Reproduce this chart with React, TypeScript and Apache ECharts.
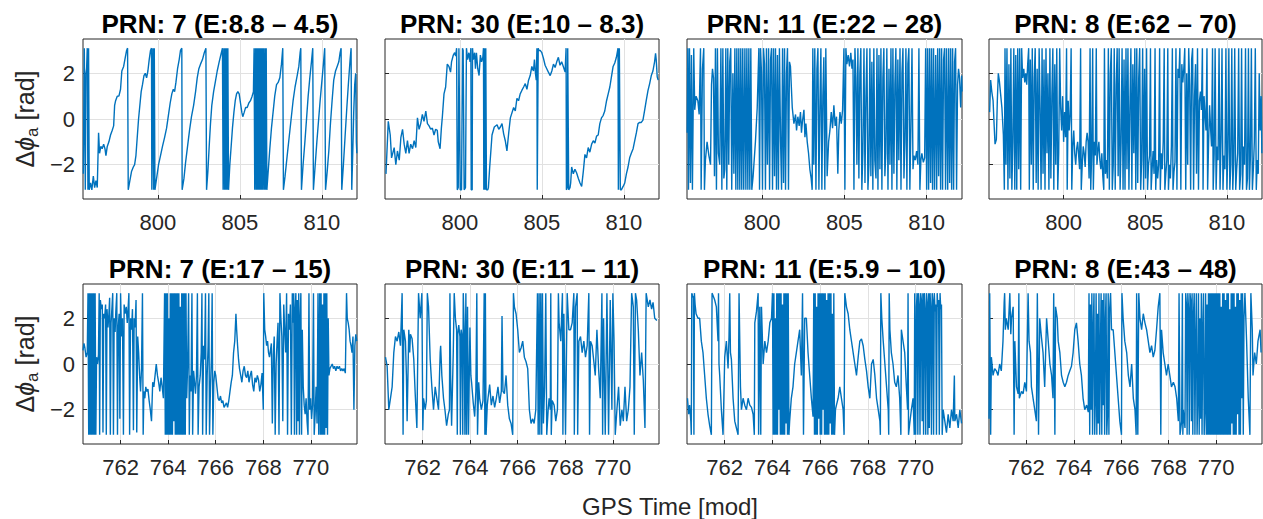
import React, { useEffect, useRef } from "react";
import * as echarts from "echarts";

const FONT = "'Liberation Sans', Arial, Helvetica, sans-serif";
const INK = "#262626";
const LINE_COLOR = "#0072BD";

// ---------- axis data ----------
const topTimeRange = [795.43, 812.15];
const bottomTimeRange = [760.42, 771.94];
const topTicks = [800, 805, 810];
const bottomTicks = [762, 764, 766, 768, 770];
const phaseRange = [-3.5, 3.5];
const phaseTicks = [-2, 0, 2];

const panelTitles = [
  "PRN: 7 (E:8.8 – 4.5)",
  "PRN: 30 (E:10 – 8.3)",
  "PRN: 11 (E:22 – 28)",
  "PRN: 8 (E:62 – 70)",
  "PRN: 7 (E:17 – 15)",
  "PRN: 30 (E:11 – 11)",
  "PRN: 11 (E:5.9 – 10)",
  "PRN: 8 (E:43 – 48)",
];
const xAxisTitle = "GPS Time [mod]";

type Pts = [number, number][];

// ---------- series data: [GPS time, Δφa] ----------
const prn7Early: Pts = [
[795.45,-2.4],[795.51,3.1],[795.57,-3.1],[795.61,2.0],[795.65,2.2],[795.69,3.1],[795.73,-3.1],[795.77,3.1],[795.81,-3.1],[795.89,-2.8],[795.97,-3.1],[796.06,-2.5],[796.14,-3.0],[796.22,-2.7],[796.30,-3.0],[796.38,-0.6],[796.44,-1.5],[796.52,-1.2],[796.60,-1.3],[796.69,-1.1],[796.77,-1.3],[796.83,-1.6],[796.91,-1.2],[797.01,-1.0],[797.11,-0.7],[797.21,-0.5],[797.30,-0.3],[797.36,0.6],[797.42,0.8],[797.52,1.0],[797.62,1.0],[797.72,1.3],[797.80,2.1],[797.91,2.3],[798.01,2.7],[798.09,3.0],[798.15,3.1],[798.19,-3.1],[798.29,-2.7],[798.39,-2.3],[798.50,-2.1],[798.58,-2.0],[798.66,-1.6],[798.74,-0.8],[798.82,0.0],[798.90,0.6],[798.98,1.2],[799.06,1.5],[799.15,1.9],[799.23,2.0],[799.31,1.8],[799.39,2.1],[799.47,2.6],[799.55,3.0],[799.61,3.1],[799.63,-3.1],[799.70,3.1],[799.74,-3.1],[799.78,3.1],[799.82,-3.1],[799.92,-2.6],[800.04,-2.0],[800.16,-1.6],[800.28,-1.2],[800.41,-0.8],[800.53,-0.4],[800.65,0.2],[800.75,0.7],[800.85,1.1],[800.94,1.3],[801.02,1.2],[801.10,1.6],[801.20,2.2],[801.30,2.6],[801.38,3.0],[801.46,3.1],[801.48,-3.1],[801.59,-2.6],[801.69,-1.9],[801.81,-1.2],[801.93,-0.5],[802.05,0.1],[802.18,0.6],[802.30,1.2],[802.40,1.8],[802.50,2.2],[802.60,2.4],[802.72,2.6],[802.83,2.9],[802.93,3.1],[802.97,-3.1],[803.05,-2.3],[803.13,-1.2],[803.21,-0.2],[803.29,0.6],[803.40,1.2],[803.50,1.6],[803.62,2.1],[803.74,2.5],[803.84,2.8],[803.94,3.1],[803.98,-3.1],[804.03,3.1],[804.07,-3.1],[804.11,3.1],[804.15,-3.1],[804.19,3.1],[804.23,-3.1],[804.27,3.1],[804.31,-3.1],[804.39,-2.0],[804.47,-1.2],[804.55,-0.4],[804.64,0.3],[804.72,0.8],[804.80,1.1],[804.88,1.2],[804.96,1.1],[805.04,0.7],[805.12,0.3],[805.18,0.1],[805.27,0.3],[805.35,0.5],[805.45,0.5],[805.55,0.7],[805.65,0.8],[805.75,1.0],[805.83,1.2],[805.87,3.1],[805.91,-3.1],[805.96,3.1],[806.00,-3.1],[806.04,3.1],[806.08,-3.1],[806.12,3.1],[806.16,-3.1],[806.20,3.1],[806.24,-3.1],[806.28,3.1],[806.32,-3.1],[806.36,3.1],[806.40,-3.1],[806.44,3.1],[806.49,-3.1],[806.53,3.1],[806.57,-3.1],[806.61,3.1],[806.65,-3.1],[806.73,-2.3],[806.83,-1.3],[806.93,-0.4],[807.03,0.3],[807.13,1.0],[807.24,1.5],[807.34,1.6],[807.44,1.8],[807.54,2.4],[807.62,3.1],[807.66,-3.1],[807.76,-2.5],[807.89,-1.6],[808.01,-0.8],[808.13,0.0],[808.25,0.8],[808.37,1.4],[808.50,1.9],[808.60,2.3],[808.68,2.9],[808.72,3.1],[808.76,-3.1],[808.86,-2.0],[808.97,-1.0],[809.07,0.0],[809.17,1.0],[809.27,1.8],[809.37,2.5],[809.45,3.1],[809.49,-3.1],[809.60,-2.0],[809.70,-1.0],[809.80,-0.1],[809.90,0.8],[810.00,1.6],[810.10,2.4],[810.18,3.1],[810.23,-3.1],[810.33,-2.3],[810.43,-1.4],[810.53,-0.2],[810.63,0.8],[810.73,1.7],[810.84,2.1],[810.94,2.3],[811.04,2.5],[811.12,2.9],[811.18,3.1],[811.22,-3.1],[811.32,-2.0],[811.42,-0.8],[811.53,0.5],[811.63,1.6],[811.73,2.6],[811.79,3.1],[811.83,-3.1],[811.89,-1.5],[811.95,0.3],[812.01,1.5],[812.07,2.0],[812.11,-1.0],[812.14,-1.5]
];

const prn30Early: Pts = [
[795.49,-2.4],[795.63,-0.1],[795.75,-0.7],[795.83,-1.7],[795.99,-1.25],[796.09,-2.0],[796.19,-1.4],[796.30,-1.8],[796.40,-0.8],[796.50,-0.45],[796.60,-1.1],[796.70,-1.5],[796.80,-0.95],[796.90,-1.5],[797.00,-1.1],[797.11,-1.3],[797.21,-0.95],[797.31,-1.25],[797.41,0.05],[797.51,-0.45],[797.61,-0.2],[797.71,0.2],[797.81,-0.1],[797.92,0.35],[798.02,-0.2],[798.12,-0.3],[798.22,-0.45],[798.32,-0.4],[798.42,-0.7],[798.52,-0.45],[798.62,-0.5],[798.68,-1.0],[798.79,-1.3],[798.87,-0.4],[798.93,0.1],[799.03,1.1],[799.13,1.4],[799.23,2.4],[799.33,2.3],[799.43,2.05],[799.49,2.5],[799.60,2.8],[799.68,2.9],[799.74,2.75],[799.80,3.1],[799.84,-3.1],[799.90,-3.0],[799.94,3.1],[799.98,3.1],[800.02,-3.1],[800.10,-3.1],[800.16,3.1],[800.20,3.0],[800.26,-3.1],[800.34,-3.0],[800.40,3.1],[800.47,2.6],[800.55,2.9],[800.62,2.5],[800.67,3.1],[800.69,-3.1],[800.75,-3.1],[800.77,3.1],[800.82,2.6],[800.90,2.9],[800.95,2.2],[801.01,2.9],[801.09,2.2],[801.17,1.9],[801.25,2.8],[801.32,2.5],[801.40,2.7],[801.44,3.1],[801.46,-3.1],[801.50,3.1],[801.54,-3.1],[801.58,3.1],[801.62,-3.1],[801.70,-3.1],[801.74,-3.0],[801.82,-2.1],[801.96,-0.7],[802.10,-0.35],[802.27,-0.25],[802.37,-0.45],[802.47,-0.35],[802.57,-0.2],[802.67,-0.65],[802.77,-0.95],[802.87,-1.4],[802.98,-0.6],[803.08,0.05],[803.28,0.5],[803.38,0.35],[803.48,0.9],[803.58,0.8],[803.68,1.1],[803.78,1.25],[803.89,1.4],[803.99,1.55],[804.09,1.3],[804.19,1.7],[804.29,1.9],[804.39,2.3],[804.49,2.1],[804.55,2.6],[804.61,2.0],[804.66,1.7],[804.70,3.1],[804.72,-3.1],[804.76,-3.1],[804.78,3.1],[804.82,3.0],[804.90,3.0],[805.00,2.9],[805.10,2.65],[805.20,2.35],[805.30,2.2],[805.40,2.05],[805.51,1.9],[805.61,2.1],[805.71,2.4],[805.81,2.25],[805.91,2.5],[806.01,2.7],[806.11,2.35],[806.21,2.5],[806.31,2.3],[806.42,2.05],[806.48,3.1],[806.50,-3.1],[806.56,-3.0],[806.58,3.1],[806.62,3.1],[806.64,-3.1],[806.72,-3.0],[806.76,-2.8],[806.82,-2.1],[806.92,-2.4],[807.02,-2.2],[807.12,-2.35],[807.23,-2.6],[807.33,-2.8],[807.43,-2.95],[807.53,-2.3],[807.63,-1.55],[807.73,-1.7],[807.83,-1.25],[807.93,-1.45],[808.04,-1.1],[808.14,-0.95],[808.24,-1.05],[808.34,-0.75],[808.44,-0.7],[808.54,-0.2],[808.64,0.05],[808.74,0.15],[808.84,0.35],[808.95,0.8],[809.05,1.1],[809.15,1.4],[809.25,1.85],[809.35,2.3],[809.45,2.45],[809.55,2.7],[809.65,3.1],[809.67,-3.1],[809.71,-3.1],[809.73,3.1],[809.77,3.1],[809.79,-3.1],[809.85,-3.1],[809.96,-2.95],[810.06,-2.8],[810.16,-2.4],[810.26,-2.1],[810.36,-1.7],[810.46,-1.5],[810.57,-1.3],[810.67,-0.95],[810.77,-0.6],[810.87,-0.2],[810.97,-0.15],[811.07,-0.15],[811.17,-0.05],[811.27,0.37],[811.37,0.8],[811.48,1.25],[811.58,1.55],[811.68,1.9],[811.78,2.1],[811.88,2.5],[811.94,2.87],[811.98,2.6],[812.04,1.85],[812.10,1.7]
];

const prn11Early: Pts = [
[795.44,-0.6],[795.48,3.1],[795.52,-3.1],[795.58,3.1],[795.64,-2.8],[795.70,2.8],[795.76,-3.1],[795.84,3.1],[795.90,0.4],[795.98,1.0],[796.09,0.8],[796.17,0.2],[796.25,3.1],[796.29,-3.1],[796.37,2.2],[796.45,3.1],[796.49,-3.1],[796.55,-1.8],[796.65,-1.0],[796.76,-1.6],[796.86,-2.0],[796.92,1.5],[796.98,2.2],[797.04,1.8],[797.10,-2.5],[797.16,3.1],[797.22,-3.1],[797.28,3.1],[797.34,-1.5],[797.42,-2.0],[797.49,3.1],[797.55,-3.1],[797.61,3.1],[797.67,-2.6],[797.73,-2.2],[797.79,3.1],[797.85,-3.1],[797.91,3.1],[797.97,-2.0],[798.03,2.5],[798.09,3.1],[798.15,-3.1],[798.22,2.0],[798.28,-2.4],[798.34,3.1],[798.40,-3.1],[798.46,3.1],[798.52,-3.1],[798.58,3.1],[798.64,-3.1],[798.70,3.1],[798.76,-3.1],[798.82,3.1],[798.88,-3.1],[798.95,3.1],[799.01,-3.1],[799.07,3.1],[799.13,-3.1],[799.19,3.1],[799.25,-3.1],[799.31,3.1],[799.37,-3.1],[799.45,-2.5],[799.59,-1.0],[799.70,0.5],[799.80,3.1],[799.84,-3.1],[799.90,3.1],[799.96,2.0],[800.02,-3.1],[800.08,3.1],[800.14,2.4],[800.20,-3.1],[800.26,3.1],[800.32,-2.0],[800.39,3.1],[800.45,-3.1],[800.51,2.6],[800.57,3.1],[800.63,-3.1],[800.69,3.1],[800.75,-2.5],[800.81,3.1],[800.87,-3.1],[800.93,2.8],[800.99,-3.1],[801.05,3.1],[801.12,-1.0],[801.18,-3.1],[801.24,3.1],[801.30,-2.8],[801.36,3.1],[801.42,-3.1],[801.48,2.0],[801.54,3.1],[801.60,-3.1],[801.66,2.5],[801.72,2.3],[801.83,0.5],[801.93,-0.2],[802.03,0.2],[802.09,-0.5],[802.17,0.1],[802.25,-0.3],[802.33,0.3],[802.39,-0.6],[802.45,-0.1],[802.54,0.4],[802.60,-0.8],[802.66,-0.2],[802.74,-1.0],[802.82,-1.5],[802.90,-2.2],[802.98,-2.6],[803.04,-3.1],[803.08,3.1],[803.14,-2.0],[803.20,3.1],[803.27,-3.1],[803.33,2.2],[803.39,3.1],[803.45,-3.1],[803.51,0.5],[803.57,3.1],[803.63,-3.1],[803.69,1.0],[803.75,2.7],[803.81,-3.1],[803.87,3.1],[803.95,-2.5],[804.04,-1.0],[804.12,-0.5],[804.20,0.3],[804.28,-0.4],[804.36,0.6],[804.44,-0.3],[804.52,0.1],[804.60,-2.4],[804.66,-0.5],[804.73,0.3],[804.81,-0.2],[804.89,0.4],[804.97,3.1],[805.03,-3.1],[805.09,3.1],[805.15,2.4],[805.23,2.8],[805.31,2.3],[805.39,2.9],[805.46,2.2],[805.52,2.6],[805.58,-3.1],[805.64,3.1],[805.70,1.8],[805.76,-2.0],[805.82,3.1],[805.88,-2.6],[805.94,2.0],[806.00,3.1],[806.06,-3.1],[806.12,-1.5],[806.19,3.1],[806.25,-2.8],[806.31,1.0],[806.37,3.1],[806.43,-3.1],[806.49,-2.0],[806.55,3.1],[806.61,-2.5],[806.67,2.5],[806.73,-3.1],[806.79,3.1],[806.85,-1.8],[806.92,-2.6],[806.98,3.1],[807.04,-3.1],[807.10,2.8],[807.16,-2.2],[807.22,3.1],[807.28,-3.1],[807.34,1.8],[807.40,3.1],[807.46,-2.5],[807.52,-1.5],[807.58,3.1],[807.65,-3.1],[807.71,2.2],[807.77,-2.0],[807.83,3.1],[807.89,-3.1],[807.95,3.1],[808.01,-2.4],[808.07,1.5],[808.13,3.1],[808.19,-3.1],[808.25,2.6],[808.31,-1.8],[808.38,3.1],[808.44,-3.1],[808.50,2.0],[808.56,3.1],[808.62,-2.6],[808.68,-1.0],[808.74,3.1],[808.80,-3.1],[808.86,2.4],[808.92,3.1],[808.98,-3.1],[809.04,-0.5],[809.11,3.1],[809.17,-2.2],[809.23,-1.6],[809.31,-1.8],[809.39,-1.4],[809.47,-2.0],[809.53,3.1],[809.59,-3.1],[809.65,-1.8],[809.71,-1.5],[809.80,-1.9],[809.88,-1.7],[809.94,3.1],[810.00,-3.1],[810.06,3.1],[810.12,-3.1],[810.18,3.1],[810.24,-2.8],[810.30,3.1],[810.36,-3.1],[810.42,3.1],[810.48,-3.1],[810.55,2.8],[810.61,-3.1],[810.67,3.1],[810.73,-2.5],[810.79,3.1],[810.85,-3.1],[810.91,3.1],[810.97,-3.1],[811.03,2.6],[811.09,3.1],[811.15,-3.1],[811.21,3.1],[811.28,-3.1],[811.34,3.1],[811.40,-2.8],[811.46,3.1],[811.52,-3.1],[811.58,3.1],[811.64,-3.1],[811.70,2.5],[811.76,3.1],[811.82,-3.1],[811.88,1.5],[811.94,2.2],[812.00,1.8],[812.07,0.5],[812.13,1.9],[812.15,1.2]
];

const prn8Early: Pts = [
[795.47,0.3],[795.53,1.7],[795.60,1.2],[795.68,0.8],[795.74,-0.2],[795.80,-1.1],[795.88,-0.9],[795.94,0.8],[796.00,2.0],[796.06,1.7],[796.14,1.1],[796.22,0.5],[796.31,-0.7],[796.37,-3.1],[796.41,3.1],[796.47,-2.0],[796.53,3.1],[796.59,-3.1],[796.65,2.4],[796.71,-2.6],[796.77,3.1],[796.83,-3.1],[796.89,-1.0],[796.95,3.1],[797.01,-3.1],[797.07,2.8],[797.13,-3.1],[797.19,3.1],[797.25,-2.2],[797.31,3.1],[797.37,-3.1],[797.43,3.1],[797.49,1.8],[797.56,2.2],[797.62,1.6],[797.68,2.0],[797.74,1.5],[797.80,2.4],[797.86,3.1],[797.90,-3.1],[797.96,2.6],[798.02,-2.0],[798.08,3.1],[798.14,-3.1],[798.20,1.8],[798.26,3.1],[798.32,-2.8],[798.38,2.2],[798.44,-3.1],[798.50,3.1],[798.56,0.5],[798.62,-3.1],[798.68,3.1],[798.74,-2.4],[798.80,2.6],[798.86,-3.1],[798.92,3.1],[798.98,-1.5],[799.04,2.0],[799.10,-3.1],[799.16,3.1],[799.22,-2.6],[799.28,1.0],[799.34,3.1],[799.40,-3.1],[799.46,2.4],[799.52,-2.0],[799.58,3.1],[799.64,-3.1],[799.70,-1.5],[799.76,3.1],[799.82,0.5],[799.88,-0.5],[799.94,1.0],[800.00,-1.0],[800.06,0.3],[800.12,-0.8],[800.18,3.1],[800.22,-3.1],[800.28,0.8],[800.34,-0.5],[800.40,0.2],[800.46,3.1],[800.50,-3.1],[800.56,-1.2],[800.62,-0.5],[800.68,-1.5],[800.74,-2.0],[800.80,-1.3],[800.86,-1.0],[800.92,-1.6],[800.98,-2.2],[801.04,3.1],[801.08,-3.1],[801.14,-2.0],[801.20,-1.2],[801.26,-1.5],[801.32,-2.1],[801.38,-1.0],[801.44,-0.6],[801.50,-1.0],[801.56,-2.6],[801.62,3.1],[801.66,-3.1],[801.72,-1.5],[801.78,3.1],[801.82,-3.1],[801.88,-1.0],[801.94,-1.6],[802.00,3.1],[802.04,-2.0],[802.10,-1.4],[802.16,-1.0],[802.22,-1.8],[802.28,-2.2],[802.34,-1.5],[802.40,-2.5],[802.46,-3.1],[802.50,3.1],[802.56,-2.4],[802.62,-1.8],[802.68,-2.6],[802.74,3.1],[802.80,-3.1],[802.86,2.0],[802.92,3.1],[802.98,-3.1],[803.04,-2.0],[803.10,3.1],[803.16,-3.1],[803.22,1.5],[803.28,3.1],[803.34,-2.5],[803.40,3.1],[803.46,-3.1],[803.52,-1.0],[803.58,3.1],[803.64,-3.1],[803.70,2.6],[803.76,-3.1],[803.82,3.1],[803.88,-2.2],[803.94,3.1],[804.00,-3.1],[804.06,0.5],[804.12,3.1],[804.18,-3.1],[804.24,2.4],[804.30,-1.5],[804.36,3.1],[804.42,-3.1],[804.48,3.1],[804.54,-2.8],[804.60,1.8],[804.66,3.1],[804.72,-3.1],[804.78,-1.8],[804.84,3.1],[804.90,-3.1],[804.96,2.2],[805.02,-2.6],[805.08,3.1],[805.14,-3.1],[805.20,-2.0],[805.26,-1.6],[805.32,3.1],[805.36,-3.1],[805.42,-2.2],[805.48,-1.4],[805.54,-2.4],[805.60,3.1],[805.64,-3.1],[805.70,-1.8],[805.76,-2.6],[805.82,-2.0],[805.88,3.1],[805.92,-3.1],[805.98,-1.5],[806.04,-2.2],[806.10,-1.0],[806.16,3.1],[806.20,-3.1],[806.26,-2.4],[806.32,-1.8],[806.38,3.1],[806.42,-3.1],[806.48,-2.0],[806.54,-2.6],[806.60,-1.2],[806.66,3.1],[806.70,-3.1],[806.76,-2.3],[806.82,-1.9],[806.88,3.1],[806.94,-3.1],[807.00,2.2],[807.06,1.8],[807.12,3.1],[807.18,-3.1],[807.24,2.4],[807.30,1.6],[807.36,2.2],[807.42,3.1],[807.48,-3.1],[807.54,2.0],[807.60,-2.0],[807.66,3.1],[807.72,1.5],[807.78,-3.1],[807.84,2.6],[807.90,3.1],[807.96,-3.1],[808.02,1.0],[808.08,2.4],[808.14,-2.4],[808.20,3.1],[808.26,-3.1],[808.32,0.8],[808.38,1.2],[808.44,0.4],[808.50,3.1],[808.54,-3.1],[808.60,1.0],[808.66,0.2],[808.72,-0.5],[808.78,3.1],[808.82,-3.1],[808.88,-1.0],[808.94,0.6],[809.00,-0.4],[809.06,-1.2],[809.12,3.1],[809.16,-3.1],[809.22,-1.5],[809.28,3.1],[809.34,-3.1],[809.40,-1.2],[809.46,-1.8],[809.52,3.1],[809.58,-3.1],[809.64,-1.0],[809.70,3.1],[809.76,-3.1],[809.82,-1.6],[809.88,-2.2],[809.94,3.1],[810.00,-3.1],[810.06,-1.4],[810.12,3.1],[810.18,-3.1],[810.24,-2.0],[810.30,3.1],[810.36,-3.1],[810.42,-1.8],[810.48,3.1],[810.54,-3.1],[810.60,-2.2],[810.66,-1.5],[810.72,3.1],[810.78,-3.1],[810.84,-2.4],[810.90,3.1],[810.96,-3.1],[811.02,-1.2],[811.08,-2.0],[811.14,3.1],[811.20,-3.1],[811.26,-2.6],[811.32,3.1],[811.38,-3.1],[811.44,-1.6],[811.50,3.1],[811.56,-3.1],[811.62,-2.2],[811.68,-1.0],[811.74,3.1],[811.80,-3.1],[811.86,-1.8],[811.92,-2.4],[811.98,2.0],[812.04,-0.5],[812.10,1.0],[812.14,-1.5]
];

const prn7Late: Pts = [
[760.42,0.6],[760.46,0.9],[760.50,0.7],[760.55,0.3],[760.60,0.5],[760.63,3.1],[760.66,-3.1],[760.69,3.1],[760.72,-3.1],[760.75,3.1],[760.78,-3.1],[760.81,3.1],[760.84,-3.1],[760.87,3.1],[760.90,-3.1],[760.93,3.1],[760.96,-3.1],[760.99,0.3],[761.03,0.0],[761.07,0.4],[761.10,3.1],[761.12,-3.1],[761.15,2.8],[761.19,2.4],[761.23,2.6],[761.26,-3.0],[761.29,2.2],[761.33,2.0],[761.37,2.6],[761.40,-3.1],[761.43,2.4],[761.47,1.6],[761.51,2.2],[761.54,2.9],[761.57,-3.1],[761.60,1.8],[761.64,2.5],[761.67,3.1],[761.70,-3.1],[761.73,2.0],[761.77,1.4],[761.80,2.3],[761.84,3.1],[761.87,-3.1],[761.90,1.6],[761.94,2.2],[761.97,-2.4],[762.00,3.1],[762.04,1.2],[762.08,2.0],[762.12,-3.1],[762.15,2.6],[762.19,2.2],[762.24,2.5],[762.28,1.8],[762.31,2.3],[762.35,3.1],[762.38,-3.1],[762.42,2.0],[762.46,1.5],[762.50,2.4],[762.54,-2.9],[762.57,2.0],[762.61,1.6],[762.65,2.8],[762.68,-3.0],[762.72,1.2],[762.76,0.5],[762.80,-0.5],[762.84,-1.2],[762.88,-0.2],[762.92,3.1],[762.95,-3.1],[762.98,-1.2],[763.02,-1.5],[763.06,-1.0],[763.10,-1.2],[763.15,-1.1],[763.20,-1.6],[763.25,-2.0],[763.30,-2.5],[763.35,-0.8],[763.40,-1.0],[763.45,-0.5],[763.50,0.0],[763.55,-0.5],[763.60,-0.8],[763.65,-1.2],[763.70,-0.6],[763.75,-1.0],[763.80,-1.5],[763.85,3.1],[763.88,-3.1],[763.91,3.1],[763.94,-3.1],[763.97,3.1],[764.00,-3.1],[764.03,2.0],[764.06,-3.1],[764.09,3.1],[764.12,-3.1],[764.15,3.1],[764.18,-3.1],[764.21,3.1],[764.24,-2.5],[764.27,3.1],[764.30,-3.1],[764.33,3.1],[764.36,-3.1],[764.39,3.1],[764.42,-3.1],[764.45,3.1],[764.48,-3.1],[764.51,2.5],[764.54,-3.1],[764.57,3.1],[764.60,-3.1],[764.63,3.1],[764.66,-3.1],[764.69,3.1],[764.72,-3.1],[764.75,3.1],[764.78,-1.5],[764.82,0.0],[764.86,3.1],[764.89,-3.1],[764.92,-0.5],[764.96,-1.2],[765.00,3.1],[765.03,-3.1],[765.07,-0.3],[765.11,-0.8],[765.15,-1.3],[765.19,-0.5],[765.23,3.1],[765.26,-3.1],[765.30,-1.0],[765.35,-0.5],[765.39,0.5],[765.42,3.1],[765.45,-3.1],[765.49,0.8],[765.53,0.2],[765.57,3.1],[765.60,-3.1],[765.64,-0.5],[765.68,0.8],[765.71,3.1],[765.74,-3.1],[765.78,-1.0],[765.82,0.3],[765.85,3.1],[765.88,-3.1],[765.92,-0.8],[765.96,-0.3],[766.00,-0.5],[766.05,-1.0],[766.10,-1.5],[766.15,-1.6],[766.20,-1.4],[766.25,-1.7],[766.30,-1.6],[766.35,-1.9],[766.40,-1.8],[766.45,-1.7],[766.50,-1.9],[766.55,-1.6],[766.60,-1.2],[766.65,-0.8],[766.70,-0.5],[766.75,0.5],[766.80,1.0],[766.85,2.2],[766.88,1.5],[766.92,0.8],[766.96,0.2],[767.00,-0.2],[767.05,-0.5],[767.10,-0.8],[767.15,-0.3],[767.20,-0.1],[767.25,-0.5],[767.30,-0.6],[767.35,-0.3],[767.40,-0.8],[767.45,-0.5],[767.50,-0.3],[767.55,-0.9],[767.60,-1.2],[767.65,-0.6],[767.70,-0.8],[767.75,-0.5],[767.80,-0.7],[767.85,-1.2],[767.90,-0.9],[767.95,-0.4],[768.00,-2.0],[768.02,3.1],[768.06,1.5],[768.10,1.2],[768.14,0.8],[768.18,1.0],[768.22,0.5],[768.26,0.3],[768.30,0.6],[768.34,0.9],[768.38,-2.6],[768.42,0.4],[768.46,1.2],[768.50,-3.1],[768.54,0.0],[768.58,1.0],[768.62,1.8],[768.66,-3.1],[768.70,3.1],[768.74,2.0],[768.78,1.2],[768.82,-2.5],[768.86,2.6],[768.90,1.5],[768.94,0.5],[768.98,3.1],[769.02,-3.1],[769.06,2.2],[769.10,1.5],[769.14,2.6],[769.18,-3.1],[769.22,3.1],[769.25,1.8],[769.28,3.1],[769.31,-3.1],[769.34,2.4],[769.37,3.1],[769.40,-3.1],[769.43,2.8],[769.46,-2.5],[769.49,3.1],[769.52,-3.1],[769.55,2.0],[769.58,3.1],[769.61,-3.1],[769.64,1.5],[769.68,-1.0],[769.72,-1.8],[769.76,-2.2],[769.80,-1.5],[769.84,-2.5],[769.88,-3.1],[769.92,3.1],[769.95,-2.0],[769.99,-1.5],[770.03,-2.4],[770.07,-1.8],[770.11,3.1],[770.14,-3.1],[770.18,-2.2],[770.22,-1.0],[770.26,-2.6],[770.30,3.1],[770.33,-3.1],[770.37,3.1],[770.40,-3.1],[770.43,3.1],[770.46,-3.1],[770.49,2.6],[770.52,-3.1],[770.55,3.1],[770.58,-3.1],[770.61,3.1],[770.64,-2.8],[770.67,3.1],[770.70,-3.1],[770.73,2.0],[770.76,-0.5],[770.80,-0.2],[770.85,-0.1],[770.90,0.0],[770.95,-0.2],[771.00,-0.1],[771.05,-0.3],[771.10,-0.1],[771.15,-0.2],[771.20,-0.1],[771.25,-0.3],[771.30,-0.2],[771.35,-0.3],[771.40,-0.2],[771.45,-0.4],[771.50,3.1],[771.53,2.0],[771.57,1.8],[771.61,1.5],[771.65,1.0],[771.69,0.8],[771.73,0.5],[771.77,1.2],[771.81,-2.0],[771.85,0.8],[771.89,1.3],[771.93,1.0]
];

const prn30Late: Pts = [
[760.44,0.3],[760.51,-0.1],[760.58,-2.0],[760.65,-1.5],[760.72,-1.0],[760.79,0.5],[760.86,1.2],[760.93,1.0],[761.00,1.4],[761.07,0.8],[761.14,3.1],[761.18,-3.1],[761.21,1.5],[761.28,1.0],[761.32,-0.5],[761.35,-2.5],[761.42,1.5],[761.46,0.5],[761.49,1.3],[761.56,1.1],[761.63,0.2],[761.69,-1.3],[761.76,-2.8],[761.83,3.1],[761.90,2.0],[761.97,3.1],[762.01,-2.9],[762.04,-1.5],[762.11,-2.0],[762.16,-1.6],[762.20,3.1],[762.25,2.5],[762.32,0.2],[762.39,-1.0],[762.46,-2.0],[762.53,-1.0],[762.60,-1.5],[762.67,-2.0],[762.74,0.5],[762.76,0.8],[762.81,-0.5],[762.88,-1.5],[762.94,-2.0],[763.01,-2.7],[763.08,-2.2],[763.13,-2.0],[763.15,3.1],[763.18,-0.5],[763.22,-2.7],[763.29,0.5],[763.33,3.1],[763.38,2.0],[763.43,1.5],[763.46,-3.1],[763.48,1.3],[763.52,1.7],[763.57,1.2],[763.59,-3.1],[763.62,1.5],[763.66,1.2],[763.69,-3.1],[763.71,3.1],[763.75,1.5],[763.78,-3.1],[763.82,3.1],[763.85,-3.1],[763.89,2.5],[763.93,-3.1],[763.99,1.6],[764.03,-0.5],[764.06,-0.8],[764.13,-1.7],[764.19,-2.3],[764.24,-1.2],[764.28,3.1],[764.31,-3.1],[764.36,-0.8],[764.40,-1.5],[764.47,-2.0],[764.54,-1.6],[764.59,3.1],[764.62,-3.1],[764.64,3.1],[764.67,-3.1],[764.72,-1.8],[764.75,-1.5],[764.82,-0.9],[764.89,-1.8],[764.96,-1.4],[765.03,-1.9],[765.10,-1.5],[765.17,-1.0],[765.24,-1.7],[765.31,-1.2],[765.34,2.1],[765.38,-1.2],[765.44,-1.3],[765.51,-0.5],[765.58,-1.8],[765.65,-2.4],[765.72,-2.6],[765.79,-3.1],[765.82,3.1],[765.86,2.5],[765.93,2.2],[766.00,1.5],[766.07,0.5],[766.14,0.7],[766.21,1.0],[766.28,0.3],[766.35,0.1],[766.42,-0.2],[766.49,-2.0],[766.56,-2.6],[766.63,-2.4],[766.69,-2.6],[766.76,-2.0],[766.83,3.1],[766.86,-3.1],[766.90,3.1],[766.93,-3.1],[766.97,3.1],[767.01,-3.1],[767.04,3.1],[767.08,-2.6],[767.13,-1.0],[767.18,3.1],[767.22,-3.1],[767.28,-2.0],[767.32,-1.5],[767.37,-2.0],[767.39,3.1],[767.41,-3.1],[767.45,-1.6],[767.53,-1.8],[767.60,-2.5],[767.67,-2.0],[767.71,3.1],[767.74,1.8],[767.81,1.0],[767.88,3.1],[767.90,-3.1],[767.94,2.2],[768.01,-3.1],[768.08,3.1],[768.15,1.5],[768.22,1.5],[768.29,1.8],[768.36,3.1],[768.38,-3.1],[768.43,2.5],[768.50,3.1],[768.52,-3.1],[768.57,1.0],[768.64,1.2],[768.71,0.5],[768.78,1.0],[768.85,0.3],[768.92,0.8],[768.99,3.1],[769.02,-3.1],[769.06,1.0],[769.13,0.8],[769.19,0.2],[769.26,-0.5],[769.33,1.5],[769.40,-0.2],[769.47,-1.5],[769.54,3.1],[769.57,-3.1],[769.61,2.0],[769.68,-3.1],[769.75,3.1],[769.82,-3.1],[769.89,2.8],[769.96,-2.0],[770.00,3.1],[770.05,1.0],[770.10,-3.1],[770.17,-2.0],[770.24,-1.0],[770.31,-2.7],[770.38,-2.0],[770.44,-2.5],[770.51,-1.0],[770.58,-2.5],[770.65,-2.0],[770.72,-1.0],[770.79,3.1],[770.86,2.5],[770.90,-3.1],[770.95,3.1],[771.00,2.8],[771.07,1.5],[771.14,-0.5],[771.21,0.5],[771.28,-0.7],[771.35,-2.8],[771.40,3.1],[771.49,2.5],[771.56,2.8],[771.63,2.4],[771.69,2.7],[771.76,2.0],[771.85,1.9]
];

const prn11Late: Pts = [
[760.44,-1.5],[760.49,-2.2],[760.53,-1.8],[760.58,-2.5],[760.60,-3.1],[760.62,3.1],[760.65,3.0],[760.69,2.9],[760.71,-3.1],[760.73,3.1],[760.76,2.6],[760.80,2.2],[760.84,2.1],[760.88,2.0],[760.95,2.0],[761.02,1.0],[761.09,0.5],[761.16,-0.5],[761.23,-1.5],[761.30,-2.2],[761.37,-2.7],[761.44,-3.1],[761.47,3.1],[761.51,3.0],[761.58,2.8],[761.65,2.5],[761.72,1.0],[761.74,3.1],[761.76,0.0],[761.79,-0.5],[761.86,-2.0],[761.93,-3.1],[762.00,0.3],[762.07,1.0],[762.14,-0.2],[762.18,1.2],[762.21,3.1],[762.24,0.5],[762.28,0.2],[762.35,-1.5],[762.42,-2.5],[762.49,-2.8],[762.56,-3.1],[762.60,3.1],[762.66,-1.0],[762.70,-2.0],[762.77,-1.5],[762.84,-1.8],[762.91,-2.0],[762.98,-1.5],[763.05,-1.8],[763.12,-1.9],[763.19,-2.2],[763.24,-3.1],[763.26,1.8],[763.33,2.3],[763.40,3.1],[763.42,-3.1],[763.47,2.5],[763.51,-3.1],[763.54,2.5],[763.61,0.0],[763.68,1.0],[763.75,0.5],[763.82,1.0],[763.89,1.8],[763.96,2.0],[764.00,3.1],[764.03,-3.1],[764.06,3.1],[764.09,-3.1],[764.12,2.0],[764.15,-3.1],[764.18,3.1],[764.21,-3.1],[764.24,3.1],[764.27,-2.0],[764.30,3.1],[764.33,-3.1],[764.36,3.1],[764.39,-3.1],[764.42,2.6],[764.45,-3.1],[764.48,3.1],[764.51,-3.1],[764.54,3.1],[764.57,-2.6],[764.60,3.1],[764.63,-3.1],[764.66,3.1],[764.69,-3.1],[764.72,-2.5],[764.79,-1.5],[764.86,-1.0],[764.93,0.0],[765.00,0.5],[765.07,1.0],[765.14,1.5],[765.21,-0.5],[765.26,3.1],[765.30,-3.1],[765.35,2.0],[765.42,2.0],[765.49,0.5],[765.56,-0.5],[765.63,-1.5],[765.70,-2.3],[765.73,3.1],[765.76,-3.1],[765.79,3.1],[765.82,-3.1],[765.85,2.5],[765.88,-3.1],[765.91,3.1],[765.94,-2.4],[765.97,3.1],[766.00,-3.1],[766.03,3.1],[766.06,-3.1],[766.09,3.1],[766.12,-2.0],[766.15,3.1],[766.18,-3.1],[766.21,3.1],[766.24,-3.1],[766.27,2.8],[766.30,-3.1],[766.33,3.1],[766.36,-3.1],[766.39,3.1],[766.42,-2.6],[766.45,3.1],[766.48,-3.1],[766.51,2.2],[766.54,-3.1],[766.57,3.1],[766.60,-3.1],[766.64,-2.0],[766.68,-1.8],[766.75,-1.5],[766.82,-1.0],[766.89,-1.5],[766.96,-2.0],[767.00,-3.1],[767.03,3.1],[767.10,2.5],[767.17,2.2],[767.24,1.5],[767.31,1.0],[767.38,0.5],[767.45,0.0],[767.52,-0.5],[767.59,0.3],[767.66,1.0],[767.73,1.1],[767.80,0.8],[767.87,0.2],[767.94,-0.3],[768.01,-1.0],[768.08,-1.5],[768.15,0.0],[768.22,0.2],[768.29,-0.5],[768.36,-1.5],[768.43,-2.0],[768.50,-2.5],[768.52,-3.1],[768.54,3.1],[768.58,2.0],[768.64,1.0],[768.71,0.0],[768.78,-1.0],[768.85,-2.0],[768.87,-3.1],[768.89,3.1],[768.92,1.5],[768.98,0.5],[769.05,0.0],[769.12,-0.8],[769.19,-1.0],[769.26,-0.5],[769.33,-1.5],[769.38,-3.1],[769.40,1.5],[769.47,1.0],[769.54,0.5],[769.61,-1.0],[769.66,-2.0],[769.68,3.1],[769.70,-3.1],[769.75,-2.6],[769.82,-2.0],[769.89,-1.5],[769.94,-3.1],[769.96,3.1],[770.00,-3.1],[770.03,2.5],[770.06,3.1],[770.09,-3.1],[770.12,3.1],[770.15,2.6],[770.18,-3.1],[770.21,3.1],[770.24,2.8],[770.27,-2.5],[770.30,3.1],[770.33,-3.1],[770.36,3.1],[770.39,2.4],[770.42,-3.1],[770.45,3.1],[770.48,2.7],[770.51,-3.1],[770.54,3.1],[770.57,-2.8],[770.60,3.1],[770.63,2.5],[770.66,-3.1],[770.69,3.1],[770.72,2.8],[770.75,-3.1],[770.78,3.1],[770.81,2.3],[770.84,2.6],[770.87,-3.1],[770.90,3.1],[770.93,2.5],[770.96,2.8],[770.99,-3.1],[771.02,3.1],[771.05,2.4],[771.08,2.6],[771.11,-3.1],[771.15,-2.0],[771.22,-2.5],[771.29,-3.0],[771.36,-2.2],[771.43,-2.8],[771.50,-2.0],[771.57,-2.5],[771.62,-0.5],[771.64,-2.5],[771.71,-2.2],[771.78,-2.8],[771.85,-2.0],[771.92,-2.6]
];

const prn8Late: Pts = [
[760.42,-2.4],[760.45,3.1],[760.49,-3.1],[760.52,0.3],[760.59,-0.5],[760.66,-0.2],[760.73,-0.3],[760.80,-0.5],[760.87,0.0],[760.94,-0.3],[761.01,1.0],[761.06,2.7],[761.08,3.1],[761.11,1.5],[761.15,2.0],[761.23,1.5],[761.30,3.1],[761.34,1.3],[761.37,2.0],[761.44,2.5],[761.48,-3.1],[761.51,1.0],[761.58,-1.0],[761.65,-1.3],[761.68,3.1],[761.70,-1.5],[761.79,-1.2],[761.86,-1.3],[761.93,-0.8],[762.00,-1.2],[762.07,3.1],[762.11,1.0],[762.17,0.5],[762.21,-1.0],[762.28,-1.5],[762.35,-2.0],[762.42,-2.5],[762.46,3.1],[762.51,-3.1],[762.56,2.0],[762.63,1.2],[762.70,0.5],[762.77,-1.0],[762.85,2.0],[762.92,1.0],[762.99,0.0],[763.06,-0.5],[763.12,-1.5],[763.15,3.1],[763.20,-3.1],[763.23,2.5],[763.30,2.0],[763.34,1.0],[763.41,0.5],[763.48,-0.5],[763.55,-0.8],[763.62,-1.0],[763.69,-0.8],[763.76,-0.5],[763.83,-0.3],[763.90,-0.1],[763.97,0.5],[764.04,1.5],[764.11,1.8],[764.18,1.0],[764.25,0.0],[764.32,-0.5],[764.39,-1.5],[764.46,-2.0],[764.54,-1.8],[764.61,-2.1],[764.64,3.1],[764.67,-3.1],[764.70,2.6],[764.73,-2.0],[764.76,3.1],[764.79,-3.1],[764.82,1.5],[764.85,3.1],[764.88,-3.1],[764.91,-1.5],[764.94,3.1],[764.97,-3.1],[765.00,2.2],[765.03,-2.6],[765.06,3.1],[765.09,-3.1],[765.12,0.5],[765.15,3.1],[765.18,-3.1],[765.21,2.8],[765.24,-1.8],[765.27,3.1],[765.30,-3.1],[765.33,1.8],[765.36,3.1],[765.39,-3.1],[765.42,-2.2],[765.45,3.1],[765.48,-3.1],[765.51,2.4],[765.55,3.1],[765.59,1.5],[765.66,1.5],[765.73,0.5],[765.80,-0.5],[765.87,-1.5],[765.94,-2.5],[766.01,-3.1],[766.03,3.1],[766.08,2.0],[766.15,1.0],[766.23,0.5],[766.30,-0.5],[766.37,-1.0],[766.44,0.0],[766.51,-1.5],[766.58,-2.0],[766.63,-3.1],[766.65,3.1],[766.70,-3.1],[766.74,3.1],[766.79,2.0],[766.86,1.5],[766.93,2.2],[767.00,1.8],[767.07,1.5],[767.14,1.0],[767.21,0.5],[767.28,0.8],[767.35,0.3],[767.42,0.6],[767.49,1.5],[767.56,2.5],[767.63,3.1],[767.67,-3.1],[767.70,1.5],[767.77,0.5],[767.84,0.0],[767.91,-0.5],[767.98,0.0],[768.05,-0.5],[768.12,-1.0],[768.20,-0.8],[768.27,-1.0],[768.34,-1.5],[768.41,-2.5],[768.44,3.1],[768.48,-3.1],[768.55,-2.5],[768.58,3.1],[768.60,-3.1],[768.62,-2.0],[768.69,-2.8],[768.72,3.1],[768.75,2.6],[768.78,-3.1],[768.81,3.1],[768.84,2.4],[768.87,-3.1],[768.90,3.1],[768.93,2.8],[768.96,-2.5],[768.99,3.1],[769.02,-3.1],[769.05,2.2],[769.08,3.1],[769.11,-3.1],[769.14,1.0],[769.17,3.1],[769.20,-3.1],[769.23,-1.5],[769.26,3.1],[769.29,-3.1],[769.32,2.0],[769.35,-2.4],[769.38,3.1],[769.41,-3.1],[769.44,1.5],[769.47,3.1],[769.50,-3.1],[769.53,-2.0],[769.56,3.1],[769.59,-3.1],[769.62,2.6],[769.65,-3.1],[769.68,3.1],[769.71,-3.1],[769.74,3.1],[769.77,-3.1],[769.80,3.1],[769.83,-3.1],[769.86,3.1],[769.89,-3.1],[769.92,3.1],[769.95,-3.1],[769.98,3.1],[770.01,-3.1],[770.04,3.1],[770.07,-3.1],[770.10,3.1],[770.13,-3.1],[770.16,3.1],[770.19,-3.1],[770.22,2.5],[770.25,-3.1],[770.28,3.1],[770.31,-3.1],[770.34,3.1],[770.37,-3.1],[770.40,2.8],[770.43,-3.1],[770.46,3.1],[770.49,-3.1],[770.52,3.1],[770.55,-3.1],[770.58,2.4],[770.61,-3.1],[770.64,3.1],[770.67,-2.6],[770.70,3.1],[770.73,-3.1],[770.76,3.1],[770.79,-3.1],[770.82,2.5],[770.85,-3.1],[770.88,3.1],[770.91,-2.2],[770.94,3.1],[770.97,-3.1],[771.00,2.8],[771.03,-3.1],[771.06,3.1],[771.09,-1.5],[771.12,3.1],[771.15,-3.1],[771.18,2.0],[771.22,3.1],[771.29,1.0],[771.36,-1.5],[771.43,-3.1],[771.47,3.1],[771.53,1.5],[771.56,-0.5],[771.63,0.5],[771.70,0.0],[771.77,1.0],[771.86,1.5],[771.90,0.5]
];

const panelSeries = [prn7Early, prn30Early, prn11Early, prn8Early, prn7Late, prn30Late, prn11Late, prn8Late];

// ---------- layout (pixels) ----------
const colLeft = [83, 385, 687, 989];
const colWidth = [274, 274, 275, 273];
const rowTop = [39, 284];
const plotHeight = 160;

const fmtTick = (v: number) => (v < 0 ? "\u2212" + Math.abs(v) : String(v));

export default function App() {
  const ref = useRef<HTMLDivElement>(null);

  useEffect(() => {
    if (!ref.current) return;
    const chart = echarts.init(ref.current, null, { renderer: "svg" });
    const grid: any[] = [];
    const xAxis: any[] = [];
    const yAxis: any[] = [];
    const series: any[] = [];
    const graphic: any[] = [];

    for (let i = 0; i < 8; i++) {
      const row = i < 4 ? 0 : 1;
      const col = i % 4;
      const ticks = row === 0 ? topTicks : bottomTicks;
      const range = row === 0 ? topTimeRange : bottomTimeRange;
      grid.push({
        left: colLeft[col],
        top: rowTop[row],
        width: colWidth[col],
        height: plotHeight,
        show: true,
        borderColor: INK,
        borderWidth: 1,
        backgroundColor: "#ffffff",
        containLabel: false,
        outerBoundsMode: "none",
      });
      xAxis.push({
        gridIndex: i,
        type: "value",
        position: "bottom",
        min: range[0],
        max: range[1],
        axisLine: { show: false, onZero: false },
        axisTick: { show: true, inside: true, length: 4, customValues: ticks, lineStyle: { color: INK } },
        axisLabel: { show: true, customValues: ticks, fontSize: 22, color: INK, fontFamily: FONT, margin: 12 },
        splitLine: { show: true, lineStyle: { color: "#e1e1e1", width: 1 } },
      });
      yAxis.push({
        gridIndex: i,
        type: "value",
        position: "left",
        min: phaseRange[0],
        max: phaseRange[1],
        axisLine: { show: false, onZero: false },
        axisTick: { show: true, inside: true, length: 4, customValues: phaseTicks, lineStyle: { color: INK } },
        axisLabel: {
          show: col === 0,
          customValues: phaseTicks,
          formatter: fmtTick,
          fontSize: 22,
          color: INK,
          fontFamily: FONT,
          margin: 8,
        },
        splitLine: { show: true, lineStyle: { color: "#e1e1e1", width: 1 } },
      });
      series.push({
        type: "line",
        xAxisIndex: i,
        yAxisIndex: i,
        data: panelSeries[i],
        showSymbol: false,
        symbol: "none",
        clip: true,
        lineStyle: { color: LINE_COLOR, width: 1.4 },
        silent: true,
      });
      graphic.push({
        type: "text",
        x: colLeft[col] + colWidth[col] / 2,
        y: rowTop[row] - 15.5,
        style: {
          text: panelTitles[i],
          font: `bold 26px ${FONT}`,
          fill: "#000000",
          align: "center",
          verticalAlign: "middle",
          textAlign: "center",
          textVerticalAlign: "middle",
        },
      });
    }

    const yLabelRich = {
      n: { fontSize: 25, fontFamily: FONT, fill: INK, lineHeight: 31, verticalAlign: "middle" },
      i: { fontSize: 25, fontFamily: FONT, fontStyle: "italic", fill: INK, lineHeight: 31, verticalAlign: "middle" },
      s: { fontSize: 17, fontFamily: FONT, fill: INK, lineHeight: 17, verticalAlign: "bottom" },
    };
    [rowTop[0] + plotHeight / 2, rowTop[1] + plotHeight / 2].forEach((cy) => {
      graphic.push({
        type: "text",
        x: 25,
        y: cy,
        rotation: Math.PI / 2,
        style: {
          text: "{n|Δ}{i|ϕ}{s|a}{n| [rad]}",
          rich: yLabelRich,
          align: "center",
          verticalAlign: "middle",
          textAlign: "center",
          textVerticalAlign: "middle",
        },
      });
    });
    graphic.push({
      type: "text",
      x: 670,
      y: 506,
      style: {
        text: xAxisTitle,
        font: `24px ${FONT}`,
        fill: INK,
        align: "center",
        verticalAlign: "middle",
        textAlign: "center",
        textVerticalAlign: "middle",
      },
    });

    chart.setOption({
      animation: false,
      backgroundColor: "#ffffff",
      grid,
      xAxis,
      yAxis,
      series,
      graphic,
    });
    return () => chart.dispose();
  }, []);

  return (
    <div
      ref={ref}
      style={{ position: "fixed", left: 0, top: 0, width: 1263, height: 519, background: "#ffffff" }}
    />
  );
}
